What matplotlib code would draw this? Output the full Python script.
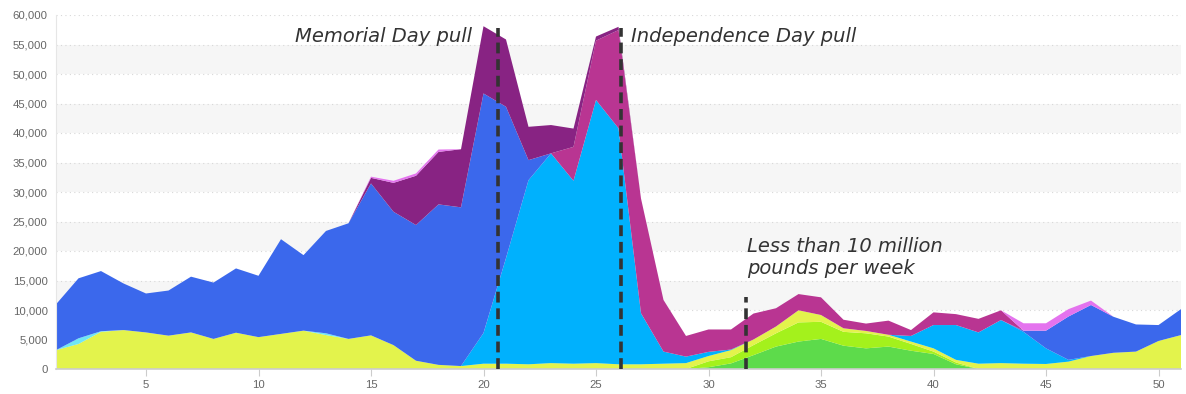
import numpy as np
import matplotlib.pyplot as plt

weeks = list(range(1, 52))

# weekly volumes per source (individual, stacked bottom -> top)
green = [0] * 29 + [300, 950, 2350, 3800, 4650, 5100, 3950, 3500, 3800, 3100,
                    2550, 800] + [0] * 10
lime = [0] * 29 + [1000, 1050, 1700, 2250, 3250, 2900, 2350, 2550, 1700, 1150,
                   400, 300] + [0] * 10
yellow = [3200, 4240, 6300, 6600, 6200, 5650, 6200, 5100, 6150, 5400,
          5950, 6500, 5750, 5100, 5700, 4050, 1400, 700, 500, 900,
          900, 800, 1000, 900, 1000, 800, 800, 900, 1000, 900,
          1200, 950, 1150, 2050, 1150, 600, 400, 300, 400, 550,
          450, 900, 1000, 900, 850, 1250, 2200, 2750, 2950, 4750,
          5750]
aqua = [0, 960, 100] + [0] * 9 + [300] + [0] * 38
cyan = [0] * 19 + [5200, 17900, 31200, 35550, 31000, 44600, 40000, 8650, 2050, 1100,
                   700, 100, 0, 0, 0, 0, 0, 0, 0, 950,
                   3950, 5900, 5300, 7300, 5400, 2650, 300, 0, 0, 0,
                   0, 0]
blue = [7760, 10170, 10200, 7900, 6600, 7650, 9450, 9550, 10900, 10400,
        16050, 12800, 17350, 19600, 25750, 22600, 23000, 27200, 26900, 40600,
        25650, 3400] + [0] * 21 + [200, 3000, 7350, 8650, 6100, 4600, 2700, 4400]
magenta = [0] * 23 + [5750, 10050, 16650, 19450, 8750, 3500, 3800,
                      3400, 4400, 3100, 2750, 3000, 1450, 1250, 2400, 1000, 2150,
                      1850, 2300, 1650] + [0] * 8
purple = [0] * 14 + [950, 4900, 8350, 8900, 9850, 11400,
                     11400, 5650, 4800, 3100, 700, 550] + [0] * 25
pink = [0] * 14 + [200, 350, 400, 400] + [0] * 25 + [1250, 1250, 1250, 750] + [0] * 4

colors = ['#5ddb4b', '#a4f11c', '#e3f34c', '#6fe6f4', '#00b1fd', '#3b68ec',
          '#b93592', '#882383', '#e473ee']

fig = plt.figure(figsize=(11.86, 3.94), dpi=100)
ax = fig.add_axes([56 / 1186, 1 - 369 / 394, 1125 / 1186, 354 / 394])

# alternating background bands
for lo in range(0, 60000, 10000):
    ax.axhspan(lo, lo + 5000, color='#f6f6f6', zorder=0, lw=0)
for y in range(5000, 60001, 5000):
    ax.axhline(y, color='#d8d8d8', linestyle=(0, (1, 3)), lw=0.8, zorder=0.5)

ax.stackplot(weeks, green, lime, yellow, aqua, cyan, blue, magenta, purple, pink,
             colors=colors, linewidth=0, zorder=2)

ax.set_xlim(1, 51)
ax.set_ylim(0, 60000)
ax.set_yticks(range(0, 60001, 5000))
ax.set_yticklabels(['{:,}'.format(v) for v in range(0, 60001, 5000)])
ax.set_xticks(range(5, 51, 5))
ax.tick_params(axis='y', length=0, pad=6, labelsize=8.2, labelcolor='#666666')
ax.tick_params(axis='x', length=5, color='#cccccc', pad=3, labelsize=8.2, labelcolor='#666666')
for lab in ax.get_xticklabels() + ax.get_yticklabels():
    lab.set_family('Liberation Sans')

for s in ['top', 'right']:
    ax.spines[s].set_visible(False)
ax.spines['left'].set_color('#e6e6e6')
ax.spines['bottom'].set_color('#cccccc')
ax.spines['bottom'].set_linewidth(1.2)

# event markers
dash = (0, (3, 1.6))
ax.plot([20.64, 20.64], [0, 57800], color='#333333', lw=2.6, linestyle=dash, zorder=3)
ax.plot([26.1, 26.1], [0, 57800], color='#333333', lw=2.6, linestyle=dash, zorder=3)
ax.plot([31.67, 31.67], [0, 12200], color='#333333', lw=2.6, linestyle=dash, zorder=3)

hand = dict(color='#333333', fontsize=14, style='italic', family='DejaVu Sans', zorder=4)
ax.text(19.5, 56300, 'Memorial Day pull', ha='right', va='center', **hand)
ax.text(26.55, 56300, 'Independence Day pull', ha='left', va='center', **hand)
ax.text(31.7, 18900, 'Less than 10 million\npounds per week', ha='left', va='center',
        linespacing=1.15, **hand)

plt.savefig('out.png', dpi=100)
